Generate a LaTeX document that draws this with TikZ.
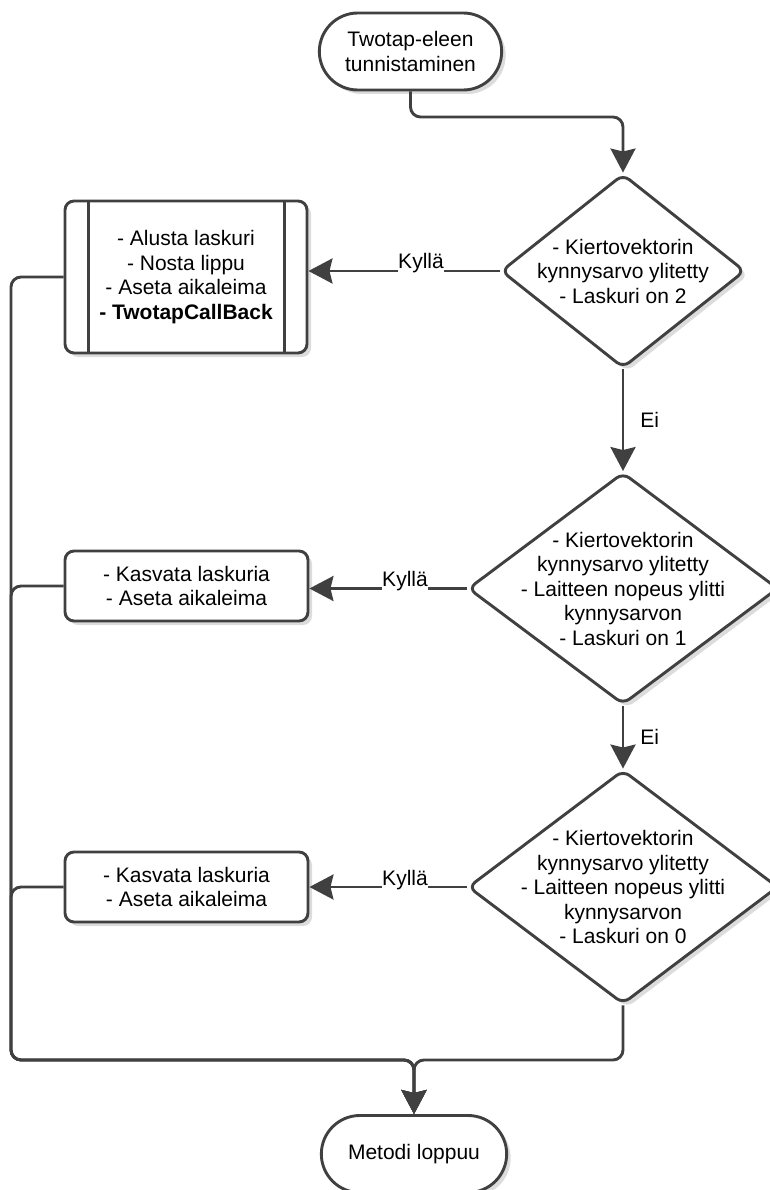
\documentclass[tikz,border=0pt]{standalone}
\usepackage{fontspec}
\setmainfont{Liberation Sans}
\usetikzlibrary{arrows.meta,shapes.geometric,shapes.misc,shadows,calc}
\definecolor{ink}{RGB}{64,64,64}
\definecolor{shade}{RGB}{220,220,220}
\begin{document}
\begin{tikzpicture}[x=1pt,y=-1pt,
  every node/.style={font=\fontsize{21}{24.5}\selectfont, text=black},
  conn/.style={draw=ink, line width=2.9pt},
  arrow/.style={conn, -{Stealth[length=24pt,width=25pt,inset=3pt]}},
  shade/.style={drop shadow={shadow xshift=4pt, shadow yshift=-4pt, fill=shade, opacity=1}},
  term/.style={rounded rectangle, draw=ink, line width=2.9pt, fill=white, shade,
               align=center, minimum width=189pt, minimum height=77pt},
  dec/.style={diamond, draw=ink, line width=2.9pt, fill=white, shade,
              rounded corners=8pt, inner sep=0pt},
  proc/.style={rectangle, draw=ink, line width=2.9pt, fill=white, shade,
               rounded corners=9pt, align=center},
  lab/.style={fill=white, inner xsep=0.5pt, inner ysep=2pt, anchor=base},
  eilab/.style={anchor=west, inner sep=0pt}]

\useasboundingbox (0,0) rectangle (769,1190);

% shapes
\node[term] (start) at (410.5,51.5) {Twotap-eleen\\tunnistaminen};

\node[dec, minimum width=244pt, minimum height=194pt] (d1) at (623,271) {};
\node[align=center] (d1t) at (d1.center) {- Kiertovektorin\\kynnysarvo ylitetty\\- Laskuri on 2};

\node[proc, minimum width=242pt, minimum height=152pt] (b1) at (186,277)
  {- Alusta laskuri\\- Nosta lippu\\- Aseta aikaleima\\\textbf{- TwotapCallBack}};
\draw[conn] ([xshift=25pt]b1.north west) -- ([xshift=25pt]b1.south west);
\draw[conn] ([xshift=-24pt]b1.north east) -- ([xshift=-24pt]b1.south east);

\node[dec, minimum width=310pt, minimum height=232pt] (d2) at (623,588.5) {};
\node[align=center] (d2t) at (d2.center)
  {- Kiertovektorin\\kynnysarvo ylitetty\\- Laitteen nopeus ylitti\\kynnysarvon\\- Laskuri on 1};

\node[proc, minimum width=243pt, minimum height=70pt] (b2) at (186.5,586)
  {- Kasvata laskuria\\- Aseta aikaleima};

\node[dec, minimum width=310pt, minimum height=234pt] (d3) at (623,887) {};
\node[align=center] (d3t) at (d3.center)
  {- Kiertovektorin\\kynnysarvo ylitetty\\- Laitteen nopeus ylitti\\kynnysarvon\\- Laskuri on 0};

\node[proc, minimum width=243pt, minimum height=70pt] (b3) at (186.5,887)
  {- Kasvata laskuria\\- Aseta aikaleima};

\node[term, minimum width=192pt] (end) at (414,1154) {Metodi loppuu};

% routing points
\coordinate (bend) at (623,117);
\coordinate (cB) at (11,1060);

% main flow
\draw[arrow, rounded corners=10pt] (start.south) |- (bend) -- (d1.north);
\draw[arrow] (d1.south) -- (d2.north)
  node[midway, eilab, xshift=16pt] (ei1) {Ei};
\draw[arrow] (d2.south) -- (d3.north)
  node[midway, eilab, xshift=16pt] (ei2) {Ei};

% "yes" branches
\draw[arrow] (d1.west) -- (d1.west -| b1.east);
\draw[arrow] (d2.west) -- (d2.west -| b2.east);
\draw[arrow] (d3.west) -- (d3.west -| b3.east);
\node[lab] (k1) at (421,269) {Kyllä};
\node[lab] (k2) at (405,586.5) {Kyllä};
\node[lab] (k3) at (405,885) {Kyllä};

% collecting lines to the end
\draw[arrow, rounded corners=10pt] (b1.west) -| (cB) -| (end.north);
\draw[arrow, rounded corners=10pt] (b2.west) -| (cB) -| (end.north);
\draw[arrow, rounded corners=10pt] (b3.west) -| (cB) -| (end.north);
\draw[arrow, rounded corners=10pt] (d3.south) -- (d3.south |- cB) -| (end.north);
\end{tikzpicture}
\end{document}
